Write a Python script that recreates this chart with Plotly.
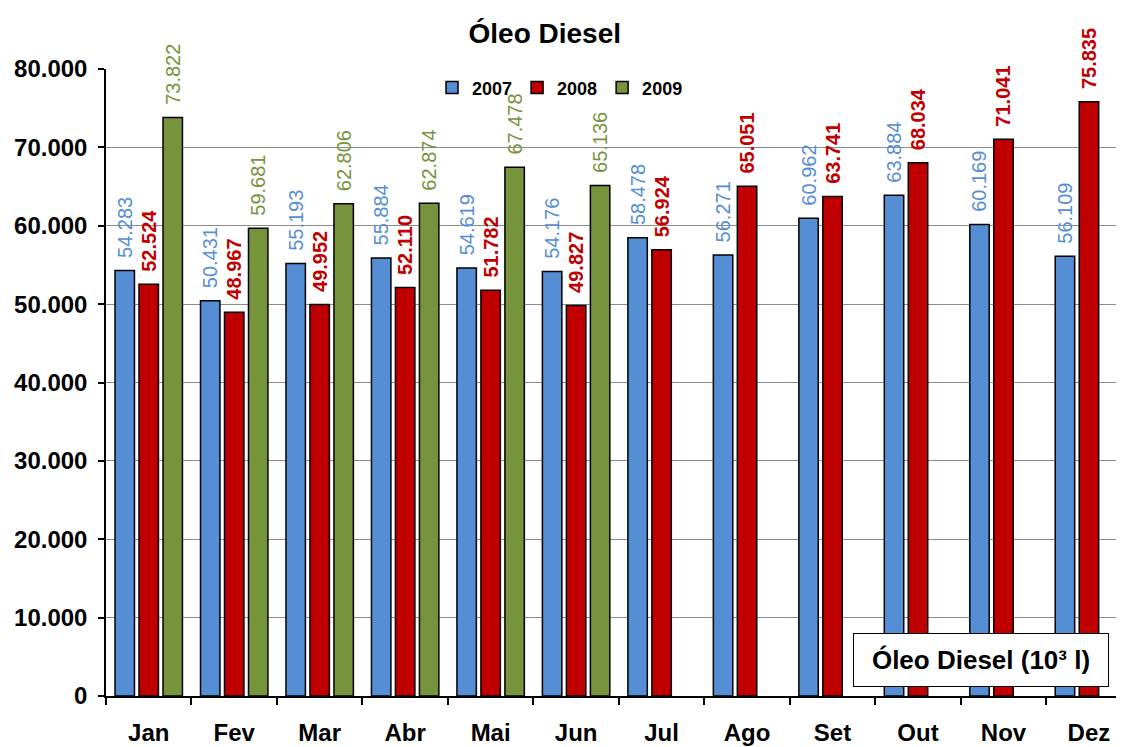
import plotly.graph_objects as go

months = ["Jan", "Fev", "Mar", "Abr", "Mai", "Jun", "Jul", "Ago", "Set", "Out", "Nov", "Dez"]
v2007 = [54283, 50431, 55193, 55884, 54619, 54176, 58478, 56271, 60962, 63884, 60169, 56109]
v2008 = [52524, 48967, 49952, 52110, 51782, 49827, 56924, 65051, 63741, 68034, 71041, 75835]
v2009 = [73822, 59681, 62806, 62874, 67478, 65136, None, None, None, None, None, None]

series = [
    ("2007", v2007, "#558ED5"),
    ("2008", v2008, "#C00000"),
    ("2009", v2009, "#77933C"),
]

fig = go.Figure()
for name, vals, color in series:
    fig.add_trace(go.Bar(
        name=name, x=months, y=vals,
        marker=dict(color=color, line=dict(color="#000000", width=1.5)),
        texttemplate="\u00a0\u2009%{y:,}", textposition="outside", textangle=-90,
        textfont=dict(family="Liberation Sans", size=20, color=color,
                      weight="bold" if name == "2008" else "normal"),
        constraintext="none", cliponaxis=False,
    ))

# page body has an 8px margin, so the figure is sized/offset to compensate
fig.update_layout(
    width=1116, height=739,
    margin=dict(l=98, r=0, t=61, b=51, autoexpand=False),
    paper_bgcolor="white", plot_bgcolor="white",
    separators=",.",
    barmode="group", bargap=0.158, bargroupgap=0.19,
    font=dict(family="Liberation Sans", color="black"),
    title=dict(text="<b>Óleo Diesel</b>", x=0.481, xanchor="center", y=0.966, yanchor="middle",
               font=dict(size=28, family="Liberation Sans", color="black")),
    legend=dict(orientation="h", x=0.446, xanchor="center", y=0.97, yanchor="middle",
                font=dict(size=18, family="Liberation Sans", weight="bold"),
                bgcolor="rgba(0,0,0,0)", itemwidth=30, traceorder="normal"),
    showlegend=True,
)

fig.update_xaxes(
    type="category", range=[-0.5, 11.41], automargin=False,
    showline=True, linecolor="black", linewidth=1.5,
    ticks="outside", tickson="boundaries", ticklen=7, tickcolor="black", tickwidth=1.5,
    ticklabelstandoff=14,
    tickfont=dict(size=24, family="Liberation Sans", weight="bold"),
    showgrid=False,
)
fig.update_yaxes(
    range=[0, 80000], dtick=10000, tickformat=",d", automargin=False,
    showline=True, linecolor="black", linewidth=1.5,
    ticks="outside", ticklen=6, tickcolor="black", tickwidth=1.5,
    ticklabelstandoff=6,
    tickfont=dict(size=24, family="Liberation Sans", weight="bold"),
    showgrid=True, gridcolor="#8c8c8c", gridwidth=1, zeroline=False,
)

fig.add_annotation(
    xref="paper", yref="paper", x=0.86, y=0.057, xanchor="center", yanchor="middle",
    text="<b>Óleo Diesel (10³ l)</b>", showarrow=False,
    font=dict(size=26, family="Liberation Sans", color="black"),
    bgcolor="white", bordercolor="black", borderwidth=1, borderpad=2,
    width=250, height=48,
)

fig.write_html("out.html")
